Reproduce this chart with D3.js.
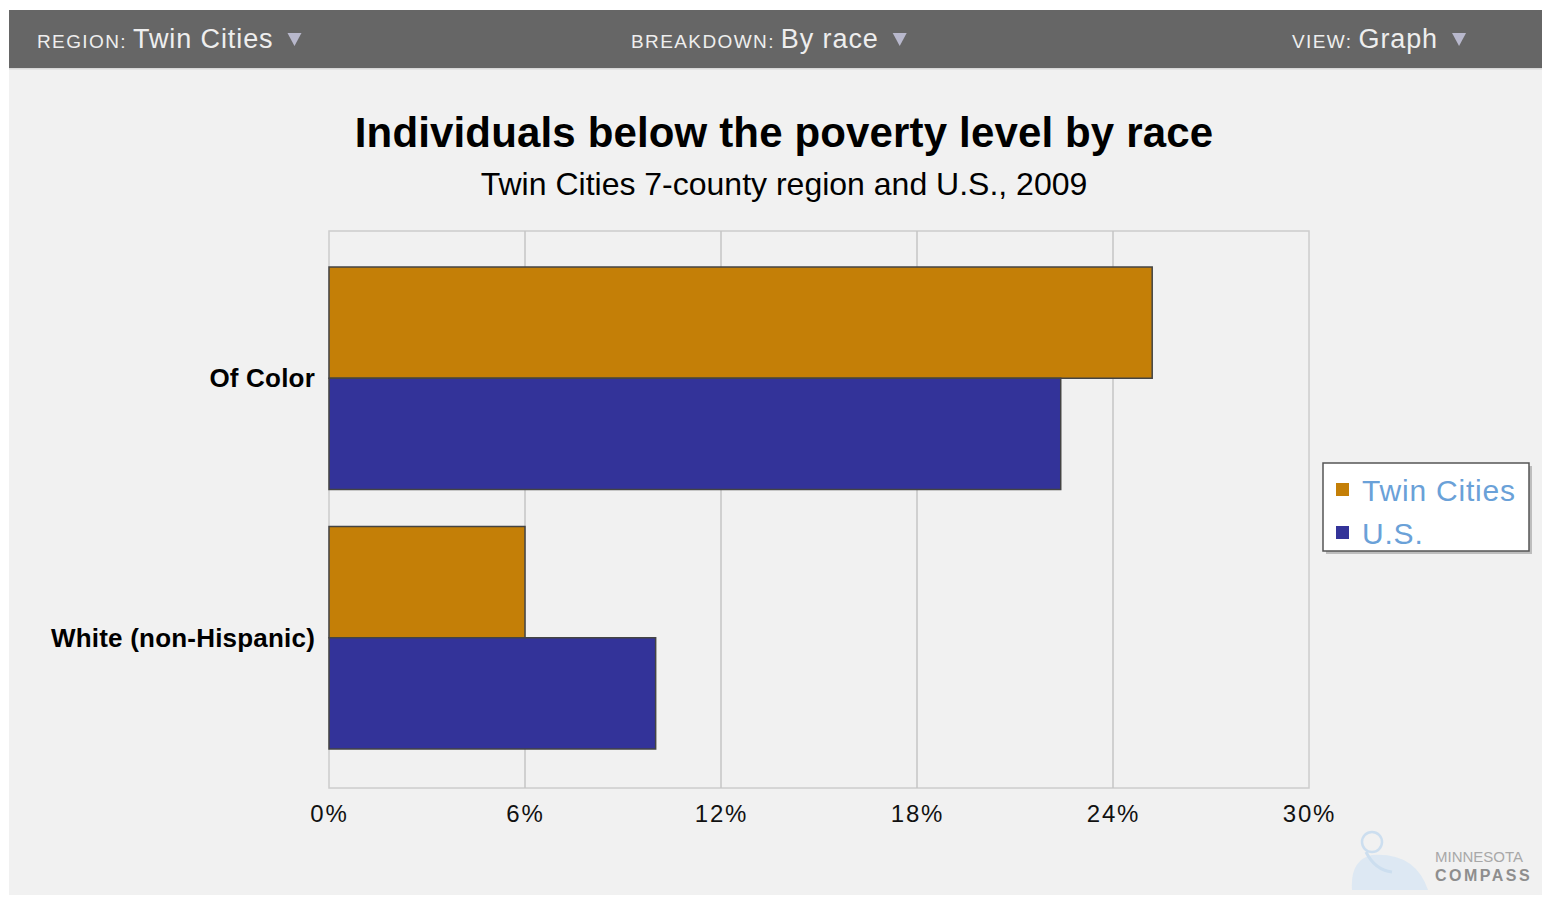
<!DOCTYPE html>
<html>
<head>
<meta charset="utf-8">
<script src="https://cdn.jsdelivr.net/npm/d3@7"></script>
<style>
  html, body { margin: 0; padding: 0; background: #ffffff; }
  svg { display: block; font-family: "Liberation Sans", Arial, sans-serif; }
</style>
</head>
<body>
<svg id="chart" width="1542" height="898"></svg>
<script>
// Poverty rate (%) by race, Twin Cities 7-county region vs. U.S., 2009
const categories = ["Of Color", "White (non-Hispanic)"];
const seriesNames = ["Twin Cities", "U.S."];
const twinCitiesValues = [25.2, 6.0];
const usValues = [22.4, 10.0];
const tickValues = [0, 6, 12, 18, 24, 30];

const seriesColors = ["#c47f07", "#333399"];

const svg = d3.select("#chart");

// page panel
svg.append("rect").attr("x", 9).attr("y", 10).attr("width", 1533).attr("height", 885).attr("fill", "#f1f1f1");

// selector bar at the top
svg.append("rect").attr("x", 9).attr("y", 10).attr("width", 1533).attr("height", 58).attr("fill", "#666666");
svg.append("rect").attr("x", 9).attr("y", 68).attr("width", 1533).attr("height", 1.5).attr("fill", "#d8d8d8");

const selectors = [
  { label: "REGION:", value: "Twin Cities", x: 37 },
  { label: "BREAKDOWN:", value: "By race", x: 631 },
  { label: "VIEW:", value: "Graph", x: 1292 }
];
selectors.forEach(s => {
  const t = svg.append("text").attr("x", s.x).attr("y", 48).attr("fill", "#eeeeee");
  t.append("tspan").attr("font-size", 19).attr("letter-spacing", 1.4).text(s.label);
  t.append("tspan").attr("font-size", 27).attr("letter-spacing", 0.9).attr("dx", 6).text(s.value);
  const w = t.node().getComputedTextLength() + 6;
  const tx = s.x + w + 14;
  svg.append("path")
    .attr("d", `M${tx},33 L${tx + 14},33 L${tx + 7},46 Z`)
    .attr("fill", "#b8b8cc");
});

// titles
svg.append("text").attr("x", 784).attr("y", 147).attr("text-anchor", "middle")
  .attr("font-size", 42).attr("font-weight", "bold").attr("letter-spacing", 0.15).attr("fill", "#000")
  .text("Individuals below the poverty level by race");
svg.append("text").attr("x", 784).attr("y", 195).attr("text-anchor", "middle")
  .attr("font-size", 32).attr("fill", "#000")
  .text("Twin Cities 7-county region and U.S., 2009");

// plot area
const plot = { left: 329, right: 1309, top: 231, bottom: 788 };

const x = d3.scaleLinear().domain([0, 30]).range([plot.left, plot.right]);
const y = d3.scaleBand().domain(categories).range([267, 749]).paddingInner(0.1426);
const ySub = d3.scaleBand().domain(seriesNames).range([0, y.bandwidth()]);

svg.append("rect")
  .attr("x", plot.left).attr("y", plot.top)
  .attr("width", plot.right - plot.left).attr("height", plot.bottom - plot.top)
  .attr("fill", "none").attr("stroke", "#cccccc").attr("stroke-width", 1.5);

// vertical gridlines
svg.append("g").selectAll("line")
  .data(tickValues.slice(1, -1))
  .join("line")
  .attr("x1", d => x(d)).attr("x2", d => x(d))
  .attr("y1", plot.top).attr("y2", plot.bottom)
  .attr("stroke", "#c4c4c4").attr("stroke-width", 1.5);

// x axis labels
const xAxis = d3.axisBottom(x).tickValues(tickValues).tickSize(0).tickPadding(0)
  .tickFormat(d => d + "%");
const xg = svg.append("g").attr("transform", `translate(0,${plot.bottom + 17})`).call(xAxis);
xg.select(".domain").remove();
xg.selectAll("text")
  .attr("font-size", 24).attr("letter-spacing", 1.8).attr("fill", "#111")
  .attr("font-family", "\"Liberation Sans\", Arial, sans-serif");

// category labels
svg.append("g").selectAll("text")
  .data(categories)
  .join("text")
  .attr("x", 315)
  .attr("y", d => y(d) + y.bandwidth() / 2 + 9)
  .attr("text-anchor", "end")
  .attr("font-size", 26).attr("font-weight", "bold").attr("fill", "#000")
  .attr("letter-spacing", 0.2)
  .text(d => d);

// bars
const rows = categories.map((c, i) => ({
  category: c,
  values: [twinCitiesValues[i], usValues[i]]
}));
const groups = svg.append("g").selectAll("g")
  .data(rows)
  .join("g")
  .attr("transform", d => `translate(0,${y(d.category)})`);
groups.selectAll("rect")
  .data(d => d.values.map((v, j) => ({ series: seriesNames[j], value: v, j })))
  .join("rect")
  .attr("x", x(0))
  .attr("y", d => ySub(d.series))
  .attr("width", d => x(d.value) - x(0))
  .attr("height", ySub.bandwidth())
  .attr("fill", d => seriesColors[d.j])
  .attr("stroke", "#444444").attr("stroke-width", 1.5);

// legend
const lg = svg.append("g").attr("transform", "translate(1323,463)");
lg.append("rect").attr("x", 3).attr("y", 3).attr("width", 206).attr("height", 88)
  .attr("fill", "#bdbdbd");
lg.append("rect").attr("width", 206).attr("height", 88)
  .attr("fill", "#ffffff").attr("stroke", "#555555").attr("stroke-width", 1.5);
seriesNames.forEach((name, i) => {
  const cy = 27 + i * 43;
  lg.append("rect").attr("x", 13).attr("y", cy - 7).attr("width", 13).attr("height", 13)
    .attr("fill", seriesColors[i]);
  lg.append("text").attr("x", 39).attr("y", cy + 11)
    .attr("font-size", 30).attr("letter-spacing", 0.8).attr("fill", "#6aa1d8").text(name);
});

// Minnesota Compass mark
const logo = svg.append("g").attr("opacity", 0.9);
logo.append("circle").attr("cx", 1372).attr("cy", 842).attr("r", 10)
  .attr("fill", "none").attr("stroke", "#c9ddef").attr("stroke-width", 2.5);
logo.append("path")
  .attr("d", "M1352,890 Q1350,860 1372,855 Q1415,852 1428,890 Z")
  .attr("fill", "#dbe8f4");
logo.append("path")
  .attr("d", "M1366,852 Q1375,870 1392,872")
  .attr("fill", "none").attr("stroke", "#c9ddef").attr("stroke-width", 3);
svg.append("text").attr("x", 1435).attr("y", 862).attr("font-size", 15)
  .attr("fill", "#a8a8a8").text("MINNESOTA");
svg.append("text").attr("x", 1435).attr("y", 881).attr("font-size", 16)
  .attr("font-weight", "bold").attr("letter-spacing", 2.5)
  .attr("fill", "#8e8e8e").text("COMPASS");
</script>
</body>
</html>
